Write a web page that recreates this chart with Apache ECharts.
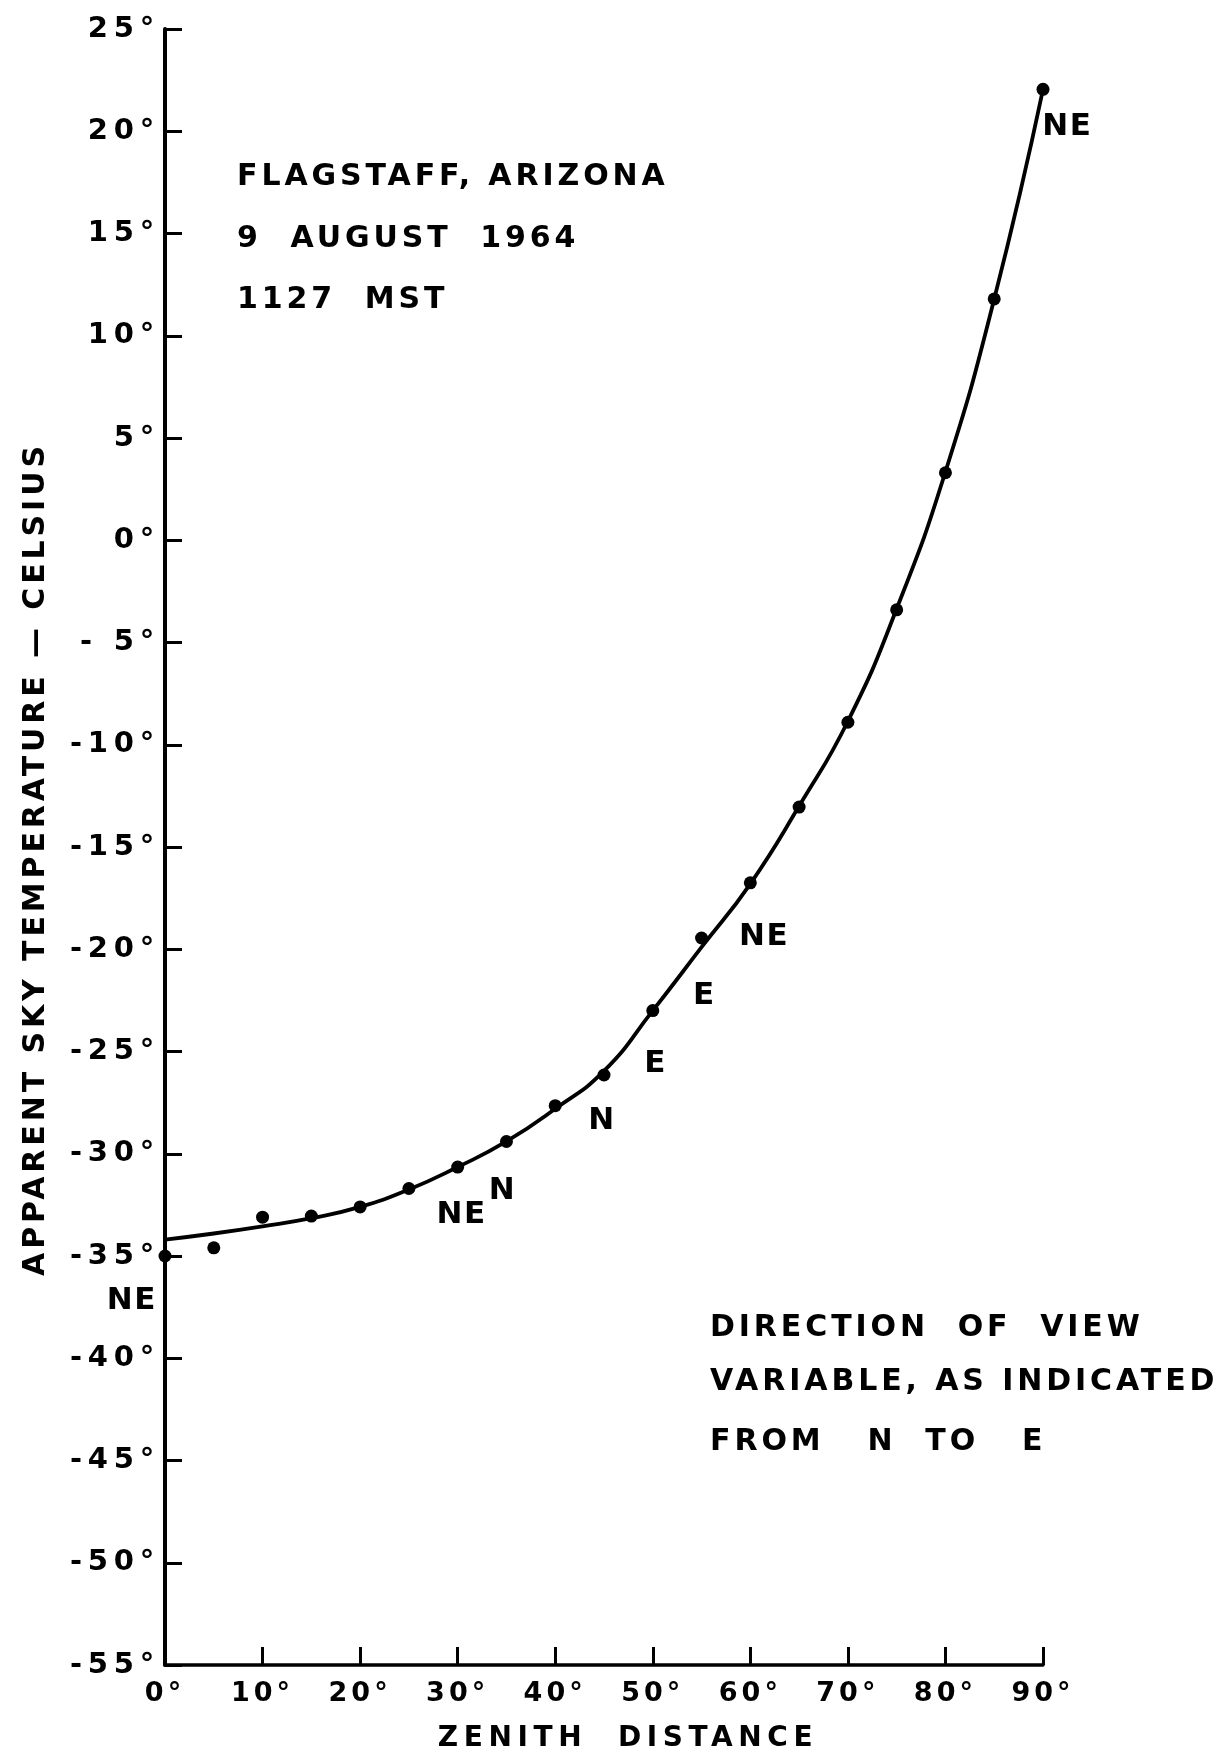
<!DOCTYPE html>
<html>
<head>
<meta charset="utf-8">
<script src="https://cdn.jsdelivr.net/npm/echarts@6/dist/echarts.min.js"></script>
<style>
  html, body { margin: 0; padding: 0; background: #ffffff; }
  #chart { width: 1229px; height: 1755px; }
</style>
</head>
<body>
<div id="chart"></div>
<script>
// ---- Data ----
// Observed points (zenith distance in degrees, apparent sky temperature in °C)
const obsZenith = [0, 5, 10, 15, 20, 25, 30, 35, 40, 45, 50, 55, 60, 65, 70, 75, 80, 85, 90];
const obsTemp   = [-35.0, -34.6, -33.1, -33.05, -32.6, -31.7, -30.65, -29.4, -27.65, -26.15, -23.0, -19.45, -16.75, -13.05, -8.9, -3.4, 3.3, 11.8, 22.05];

const curveZenith = [0, 5, 10, 15, 20, 25, 30, 35, 40, 45, 50, 55, 60, 65, 70, 75, 80, 85, 90];
const curveTemp   = [-34.2, -33.9, -33.55, -33.15, -32.6, -31.75, -30.65, -29.4, -27.8, -25.95, -23.0, -19.9, -16.8, -13.0, -8.85, -3.35, 3.35, 11.8, 22.05];

// Direction-of-view annotations (text, zenith position, temperature position)
const dirText   = ['NE', 'NE', 'E', 'E', 'N', 'N', 'NE', 'NE'];
const dirZenith = [92.5, 61.4, 55.3, 50.3, 44.8, 34.6, 30.4, -3.4];
const dirTemp   = [20.2, -19.4, -22.3, -25.6, -28.4, -31.8, -33.0, -37.2];

// Axis ticks
const xTicks = { min: 0, max: 90, step: 10 };
const yTicks = { min: -55, max: 25, step: 5 };

// Text blocks
const infoLines = ['FLAGSTAFF, ARIZONA', '9  AUGUST  1964', '1127  MST'];
const noteLines = ['DIRECTION  OF  VIEW', 'VARIABLE, AS INDICATED', 'FROM   N  TO   E'];
const xTitle = 'ZENITH  DISTANCE';
const yTitle = 'APPARENT SKY TEMPERATURE — CELSIUS';

// ---- Wide lettering: letter spacing (fraction of font size) per text size ----
const SPACING_BY_SIZE = { 30: 0.13, 31: 0.05, 27: 0.15, 29: 0.2, 28: 0.2 };
(function () {
  const proto = CanvasRenderingContext2D.prototype;
  if (!('letterSpacing' in proto)) return;
  const orig = proto.fillText;
  proto.fillText = function (text, x, y, maxWidth) {
    const m = /(\d+(?:\.\d+)?)px/.exec(this.font);
    const size = m ? parseFloat(m[1]) : 12;
    const r = SPACING_BY_SIZE[Math.round(size)];
    this.letterSpacing = (size * (r === undefined ? 0.15 : r)).toFixed(2) + 'px';
    return maxWidth === undefined ? orig.call(this, text, x, y) : orig.call(this, text, x, y, maxWidth);
  };
})();

const FONT = '"DejaVu Sans", "Liberation Sans", sans-serif';
const INK = '#000000';

const chart = echarts.init(document.getElementById('chart'), null, { renderer: 'canvas' });

const xFmt = v => v + '°';
const yFmt = v => {
  if (v < 0) return (v > -10 ? '- ' : '-') + Math.abs(v) + '°';
  return v + '°';
};

const textStyle = (size) => ({ fontFamily: FONT, fontWeight: 'bold', fontSize: size, fill: INK });

const graphics = [];
const infoY = [177, 239, 300];
infoLines.forEach((t, i) => graphics.push({
  type: 'text', x: 237, y: infoY[i], z: 10,
  style: Object.assign({ text: t, textAlign: 'left', textVerticalAlign: 'middle' }, textStyle(30))
}));
const noteY = [1328, 1382, 1442];
noteLines.forEach((t, i) => graphics.push({
  type: 'text', x: 710, y: noteY[i], z: 10,
  style: Object.assign({ text: t, textAlign: 'left', textVerticalAlign: 'middle' }, textStyle(30))
}));
graphics.push({
  type: 'text', x: 628, y: 1739, z: 10,
  style: Object.assign({ text: xTitle, textAlign: 'center', textVerticalAlign: 'middle' }, textStyle(28))
});
graphics.push({
  type: 'text', x: 36, y: 859, rotation: Math.PI / 2, z: 10,
  style: Object.assign({ text: yTitle, textAlign: 'center', textVerticalAlign: 'middle' }, textStyle(30))
});

const option = {
  backgroundColor: '#ffffff',
  animation: false,
  grid: { left: 165, right: 186, top: 29, bottom: 90, containLabel: false, outerBoundsMode: 'none' },
  xAxis: {
    type: 'value',
    min: xTicks.min, max: xTicks.max, interval: xTicks.step,
    axisLine: { show: true, onZero: false, lineStyle: { color: INK, width: 3.5 } },
    axisTick: { show: true, inside: true, length: 18, lineStyle: { color: INK, width: 3 } },
    axisLabel: {
      show: true, color: INK, fontFamily: FONT, fontWeight: 'bold', fontSize: 27, margin: 15,
      formatter: xFmt
    },
    splitLine: { show: false }
  },
  yAxis: {
    type: 'value',
    min: yTicks.min, max: yTicks.max, interval: yTicks.step,
    axisLine: { show: true, onZero: false, lineStyle: { color: INK, width: 4 } },
    axisTick: { show: true, inside: true, length: 17, lineStyle: { color: INK, width: 3 } },
    axisLabel: {
      show: true, color: INK, fontFamily: FONT, fontWeight: 'bold', fontSize: 29, margin: 5,
      formatter: yFmt
    },
    splitLine: { show: false }
  },
  graphic: graphics,
  series: [
    {
      name: 'curve',
      type: 'line',
      data: curveZenith.map((x, i) => [x, curveTemp[i]]),
      smooth: 0.5,
      showSymbol: false,
      symbol: 'none',
      clip: false,
      lineStyle: { color: INK, width: 3.8 },
      z: 3
    },
    {
      name: 'observations',
      type: 'scatter',
      data: obsZenith.map((x, i) => [x, obsTemp[i]]),
      symbol: 'circle',
      symbolSize: 13,
      clip: false,
      itemStyle: { color: INK, opacity: 1 },
      emphasis: { disabled: true },
      z: 4
    },
    {
      name: 'direction',
      type: 'scatter',
      data: dirText.map((t, i) => ({ name: t, value: [dirZenith[i], dirTemp[i]] })),
      symbol: 'circle',
      symbolSize: 1,
      clip: false,
      itemStyle: { color: 'rgba(0,0,0,0)', opacity: 1 },
      label: {
        show: true, position: 'inside', formatter: p => p.name,
        color: INK, opacity: 1, fontFamily: FONT, fontWeight: 'bold', fontSize: 31
      },
      emphasis: { disabled: true },
      z: 5
    }
  ]
};

chart.setOption(option);
</script>
</body>
</html>
